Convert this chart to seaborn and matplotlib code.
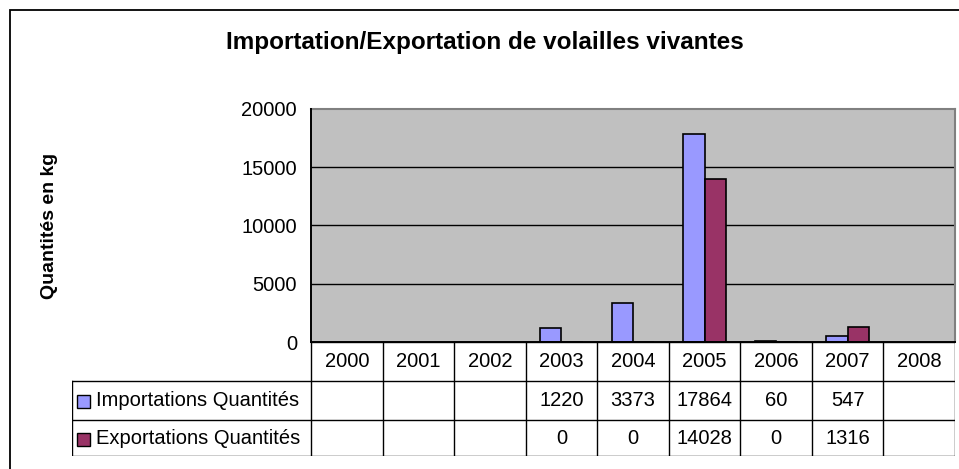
import numpy as np
import pandas as pd
import matplotlib.pyplot as plt
import seaborn as sns
from matplotlib.patches import Rectangle

# Chart data
years = ['2000', '2001', '2002', '2003', '2004', '2005', '2006', '2007', '2008']
importations = [np.nan, np.nan, np.nan, 1220, 3373, 17864, 60, 547, np.nan]
exportations = [np.nan, np.nan, np.nan, 0, 0, 14028, 0, 1316, np.nan]
series_names = ['Importations Quantités', 'Exportations Quantités']
series_colors = ['#9999FF', '#993366']
y_ticks = [0, 5000, 10000, 15000, 20000]

title = 'Importation/Exportation de volailles vivantes'
y_label = 'Quantités en kg'

df = pd.DataFrame({
    'year': years * 2,
    'serie': [series_names[0]] * len(years) + [series_names[1]] * len(years),
    'value': importations + exportations,
})

sns.set_style('white')
plt.rcParams['font.family'] = ['Liberation Sans', 'DejaVu Sans']
plt.rcParams['text.color'] = 'black'
plt.rcParams['ytick.color'] = 'black'
plt.rcParams['ytick.labelcolor'] = 'black'

FS = 14.5

W, H = 959, 469
fig = plt.figure(figsize=(W / 100, H / 100), dpi=100)

# plot area in pixels
left, right, top, bottom = 311, 955, 109, 342
ax = fig.add_axes([left / W, (H - bottom) / H, (right - left) / W, (bottom - top) / H])
ax.set_facecolor('#C0C0C0')

sns.barplot(data=df, x='year', y='value', hue='serie', order=years,
            hue_order=series_names, palette=series_colors, saturation=1,
            width=0.6, edgecolor='black', linewidth=1.2, errorbar=None,
            legend=False, ax=ax, zorder=2)

ax.set_xlim(-0.5, len(years) - 0.5)
ax.set_ylim(y_ticks[0], y_ticks[-1])
ax.set_yticks(y_ticks)
ax.set_yticklabels([str(t) for t in y_ticks], fontsize=FS)
for t in y_ticks[1:-1]:
    ax.axhline(t, color='black', lw=1, zorder=1)
ax.set_xticks([])
ax.set_xlabel('')
ax.set_ylabel('')
ax.tick_params(axis='y', direction='out', length=7, width=1, color='black', pad=3)
for side in ['top', 'right']:
    ax.spines[side].set_color('#808080')
    ax.spines[side].set_linewidth(1.5)
for side in ['left', 'bottom']:
    ax.spines[side].set_color('black')
    ax.spines[side].set_linewidth(1.4)
    ax.spines[side].set_zorder(4)

# data table under the chart
col_w = (right - left) / len(years)
tab_left, tab_bottom = 72, 456
tab = fig.add_axes([tab_left / W, (H - tab_bottom) / H, (right - tab_left) / W, (tab_bottom - bottom) / H])
xl = -0.5 - (left - tab_left) / col_w
xr = len(years) - 0.5
rows = [0, 39, 78, tab_bottom - bottom]
tab.set_xlim(xl, xr)
tab.set_ylim(rows[-1], 0)
tab.axis('off')

lk = dict(color='black', lw=1, solid_capstyle='projecting')
tab.plot([-0.5, xr], [rows[0], rows[0]], **lk)
for r in rows[1:]:
    tab.plot([xl, xr], [r, r], **lk)
for i in range(len(years) + 1):
    tab.plot([i - 0.5, i - 0.5], [rows[0], rows[-1]], **lk)
tab.plot([xl, xl], [rows[1], rows[-1]], **lk)

for i, y in enumerate(years):
    tab.text(i, (rows[0] + rows[1]) / 2, y, ha='center', va='center', fontsize=FS)
for k, vals in enumerate([importations, exportations]):
    yc = (rows[k + 1] + rows[k + 2]) / 2
    for i, v in enumerate(vals):
        if not np.isnan(v):
            tab.text(i, yc, f'{int(v)}', ha='center', va='center', fontsize=FS)
    sq = 13
    tab.add_patch(Rectangle((xl + 5 / col_w, yc - sq / 2 + 1), sq / col_w, sq,
                            facecolor=series_colors[k], edgecolor='black', lw=1, clip_on=False))
    tab.text(xl + 24 / col_w, yc, series_names[k], ha='left', va='center', fontsize=FS)

# titles
fig.text(485 / W, 1 - 43 / H, title, ha='center', va='center', fontsize=17.5, fontweight='bold')
fig.text(50 / W, 1 - 226 / H, y_label, ha='center', va='center', rotation=90,
         fontsize=14, fontweight='bold')

# outer chart border
fig.add_artist(Rectangle((10 / W, -0.1), 1.2, 1 - 10 / H + 0.1, transform=fig.transFigure,
                         facecolor='none', edgecolor='black', lw=1.3, clip_on=False))

fig.savefig('out.png', dpi=100)
